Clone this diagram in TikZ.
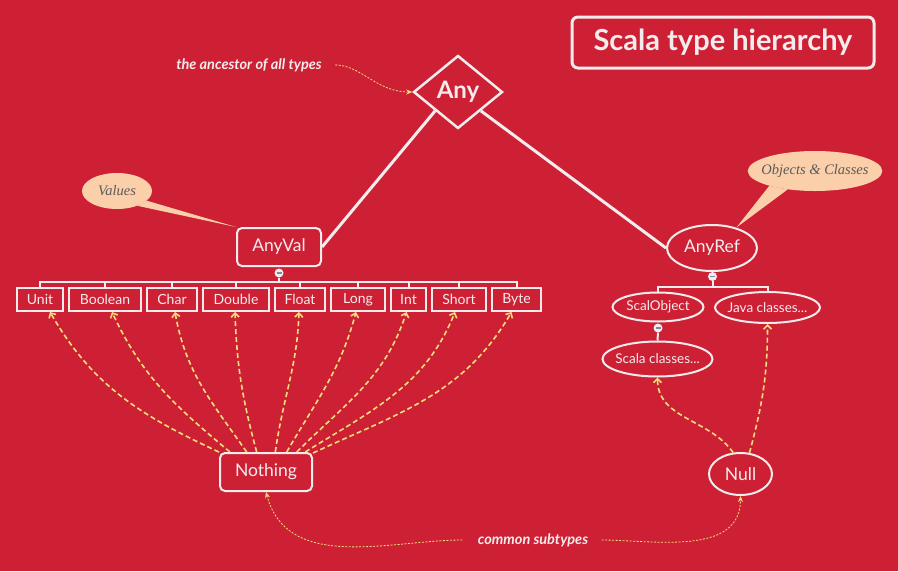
\documentclass[tikz,border=0pt]{standalone}
\usepackage{fontspec}
\setmainfont{Lato}
\newfontfamily\notefont{Liberation Serif}
\usetikzlibrary{arrows.meta,positioning,shapes.geometric,calc}
\definecolor{bgred}{HTML}{CE2035}
\definecolor{ink}{HTML}{F3ECEC}
\definecolor{peach}{HTML}{FBCFAA}
\definecolor{note}{HTML}{5A5A5A}
\definecolor{dash}{HTML}{F2DE7A}
\definecolor{knob}{HTML}{7A88A8}
\tikzset{
  tbox/.style={draw=ink,line width=2pt,text=ink,minimum height=23pt,inner sep=0pt,font=\fontsize{14}{16}\selectfont},
  rbox/.style={tbox,rounded corners=5pt,minimum height=38pt,font=\fontsize{17.5}{20}\selectfont},
  obox/.style={ellipse,draw=ink,line width=2pt,text=ink,inner xsep=-6pt,inner ysep=0pt,font=\fontsize{13.5}{15}\selectfont},
  bubble/.style={ellipse,fill=peach,text=note,inner xsep=-6pt,inner ysep=0pt,font=\notefont\itshape\fontsize{14.5}{16}\selectfont},
  knobc/.style={circle,fill=ink,inner sep=0pt,minimum size=9pt,
    path picture={\draw[knob,line width=1.2pt] ([xshift=-2.5pt]path picture bounding box.center) -- ([xshift=2.5pt]path picture bounding box.center);}},
  tree/.style={draw=ink,line width=2pt},
  link/.style={draw=ink,line width=3pt},
  sub/.style={draw=dash,line width=1.6pt,dash pattern=on 5pt off 3pt,-{Straight Barb[length=4pt,width=8pt]}},
  hint/.style={draw=dash,line width=0.8pt,dash pattern=on 2pt off 1.5pt,-{Stealth[length=6pt,width=5pt]}},
  say/.style={text=ink,font=\bfseries\itshape\fontsize{14.5}{17}\selectfont},
}

\begin{document}
\begin{tikzpicture}[x=1pt,y=1pt]
\fill[bgred] (0,0) rectangle (898,-571);
\useasboundingbox (0,0) rectangle (898,-571);

\node[draw=ink,line width=3pt,rounded corners=6pt,text=ink,minimum width=302pt,minimum height=51pt,font=\bfseries\fontsize{29}{33}\selectfont] (title) at (723,-42.5) {Scala type hierarchy};
\node[diamond,aspect=1.2,draw=ink,line width=2.5pt,text=ink,inner sep=0pt,minimum width=89pt,minimum height=73pt,font=\bfseries\fontsize{24}{28}\selectfont] (any) at (458,-92) {Any};
\node[say] (anc) at (249,-65) {the ancestor of all types};

\node[rbox,minimum width=84pt] (anyval) at (279,-247) {AnyVal};
\node[obox,minimum width=90pt,minimum height=46pt,font=\fontsize{17.5}{20}\selectfont] (anyref) at (712,-248) {AnyRef};
\node[bubble,minimum width=70pt,minimum height=36pt] (values) at (117,-191) {Values};
\node[bubble,minimum width=134pt,minimum height=40pt] (objcls) at (815,-171) {Objects \& Classes};
\fill[peach] (values.-36) -- (anyval.north west) -- (values.-18) -- cycle;
\fill[peach] (objcls.198) -- (anyref.40) -- (objcls.214) -- cycle;

\node[tbox,minimum width=46pt] (unit) at (40,-299.5) {Unit};
\node[tbox,minimum width=72pt,right=4pt of unit] (bool) {Boolean};
\node[tbox,minimum width=50pt,right=4pt of bool] (char) {Char};
\node[tbox,minimum width=66pt,right=4pt of char] (double) {Double};
\node[tbox,minimum width=50pt,right=4pt of double] (float) {Float};
\node[tbox,minimum width=54pt,right=4pt of float] (long) {Long};
\node[tbox,minimum width=35pt,right=4pt of long] (int) {Int};
\node[tbox,minimum width=54pt,right=4pt of int] (short) {Short};
\node[tbox,minimum width=49pt,right=4pt of short] (byte) {Byte};

\node[knobc] (valknob) at (279,-273) {};
\coordinate (valbar) at (279,-282);
\draw[tree] (valknob.south) -- (valbar);
\foreach \b in {unit,bool,char,double,float,long,int,short,byte}
  \draw[tree] (valbar) -| (\b.north);

\node[obox,minimum width=91pt,minimum height=29pt] (scalobj) at (658,-307) {ScalObject};
\node[obox,minimum width=105pt,minimum height=31pt] (javacls) at (767.5,-307.5) {Java classes...};
\node[obox,minimum width=110pt,minimum height=35pt] (scalacls) at (657.5,-359) {Scala classes...};
\node[knobc] (refknob) at (712.5,-276.5) {};
\coordinate (refbar) at (712.5,-286.5);
\draw[tree] (refknob.south) -- (refbar);
\draw[tree] (refbar) -| (scalobj.north);
\draw[tree] (refbar) -| (javacls.north);
\node[knobc] (objknob) at (658,-328) {};
\draw[tree] (objknob.south) -- (scalacls.north);

\draw[link] (any.south west) -- (anyval.east);
\draw[link] (any.south east) -- (anyref.west);

\node[rbox,minimum width=92pt] (nothing) at (266,-472) {Nothing};
\node[obox,minimum width=63pt,minimum height=42pt,font=\fontsize{17.5}{20}\selectfont] (null) at (740.5,-474) {Null};
\node[say] (cst) at (533,-540) {common subtypes};

\foreach \t/\a/\o/\i/\d in {unit/157/155/-60/10,bool/151/140/-65/7,char/134/125/-80/3,double/115/105/-88/-1,float/65/82/-92/-1,long/44/60/-105/-2,int/33/45/-108/-2,short/27/32/-112/-4,byte/22/25/-120/-5}
  \draw[sub] (nothing.\a) to[out=\o,in=\i] ([xshift=\d pt]\t.south);
\draw[sub] (null.109) to[out=125,in=-90] (scalacls.south);
\draw[sub] (null.67) to[out=75,in=-90] (javacls.south);

\draw[hint,shorten <=10pt] (anc.east) to[out=0,in=180] (any.west);
\draw[hint,shorten <=12pt] (cst.west) to[out=180,in=-75] (nothing.south);
\draw[hint,shorten <=10pt] (cst.east) to[out=0,in=-90] (null.south);
\end{tikzpicture}
\end{document}
